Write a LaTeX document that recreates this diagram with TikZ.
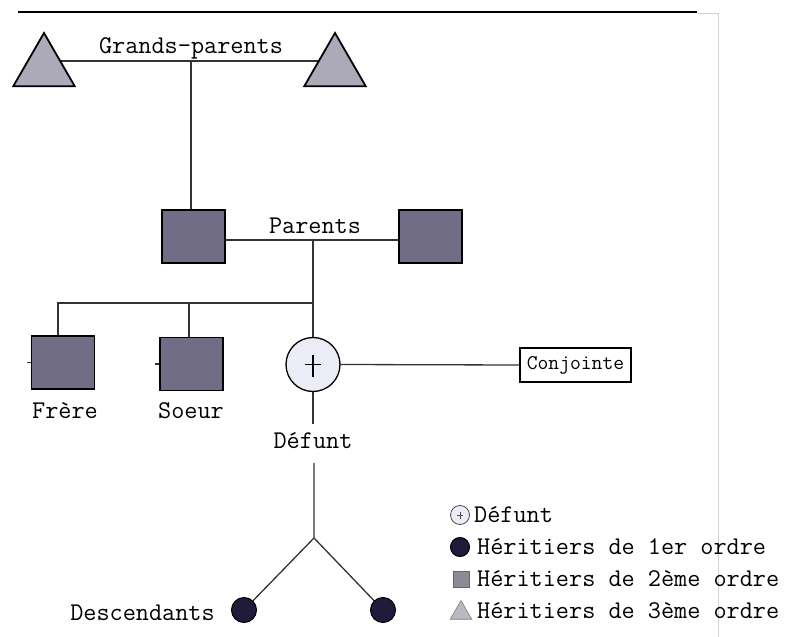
\documentclass[tikz,border=0pt]{standalone}
\usepackage{fontspec}
\usetikzlibrary{shapes.geometric,calc,backgrounds}
\definecolor{gpfill}{RGB}{172,170,184}
\definecolor{sqfill}{RGB}{114,109,134}
\definecolor{deadfill}{RGB}{236,236,246}
\definecolor{heirfill}{RGB}{32,27,58}
\definecolor{legsq}{RGB}{140,138,152}
\definecolor{legtri}{RGB}{186,184,192}
\newcommand\dcross[1]{%
  \path (path picture bounding box.center) coordinate (pc)
        (path picture bounding box.north) coordinate (pn)
        (path picture bounding box.south) coordinate (ps)
        (path picture bounding box.west) coordinate (pw)
        (path picture bounding box.east) coordinate (pe);
  \draw[line width=#1] ($(pc)!0.36!(pn)$) -- ($(pc)!0.46!(ps)$);
  \draw[line width=#1] ($(pc)!0.3!(pw)$) -- ($(pc)!0.3!(pe)$);}
\tikzset{
  conn/.style={draw=black!80, line width=1.3pt},
  tri/.style={regular polygon, regular polygon sides=3, draw=black, line width=1.8pt,
    fill=gpfill, inner sep=0pt, minimum size=71pt},
  sq/.style={rectangle, draw=black, line width=1.8pt, fill=sqfill, inner sep=0pt,
    minimum width=63pt, minimum height=53pt},
  dead/.style={circle, draw=black, line width=1.3pt, fill=deadfill, inner sep=0pt,
    minimum size=54pt, path picture={\dcross{1.4pt}}},
  deadicon/.style={circle, draw=black!70, line width=0.8pt, fill=deadfill, inner sep=0pt,
    minimum size=19pt, path picture={\dcross{1pt}}},
  heir/.style={circle, draw=black, line width=1pt, fill=heirfill, inner sep=0pt,
    minimum size=25pt},
  lbl/.style={font=\ttfamily\fontsize{25.5}{30}\selectfont, inner sep=0pt, anchor=base},
  leglbl/.style={font=\ttfamily\fontsize{25.5}{30}\selectfont, inner sep=0pt, anchor=base west},
  spouse/.style={rectangle, draw=black, line width=1.3pt, inner sep=0pt,
    minimum width=111pt, minimum height=34pt, font=\ttfamily\fontsize{21}{25}\selectfont},
}
\begin{document}
\begin{tikzpicture}[x=1pt,y=-1pt]
\useasboundingbox (0,0) rectangle (788,637);
% page frame of the scan
\draw[line width=2.5pt] (18,12) -- (697,12);
\draw[black!18, line width=0.8pt] (697,13) -- (718,13) -- (718,637);

% grandparents
\node[tri] (gpL) at (44,68.5) {};
\node[tri] (gpR) at (335,68.5) {};
\coordinate (gpJ) at (191,61);
\node[lbl] (gplab) at (191,53) {Grands-parents};

% parents
\node[sq] (parL) at (193.5,236.5) {};
\node[sq] (parR) at (430.5,236.5) {};
\coordinate (parJ) at (313,240);
\node[lbl] (parlab) at (315,233) {Parents};

% siblings
\coordinate (sibJ) at (313,303);
\coordinate (sib1) at (58,303);
\coordinate (sib2) at (189,303);
\node[sq] (frere) at (63,362.5) {};
\node[sq] (soeur) at (191.5,364) {};
\node[lbl] (frerelab) at (65,418) {Frère};
\node[lbl] (soeurlab) at (191,418) {Soeur};

% deceased and spouse
\node[dead] (def) at (313,364.5) {};
\node[spouse] (conj) at (575.5,365) {Conjointe};
\node[lbl] (deflab) at (313,448) {Défunt};
\coordinate (defB) at (313,424);

% descendants
\coordinate (forkT) at (314,463);
\coordinate (fork) at (314,538);
\node[heir] (d1) at (244,610) {};
\node[heir] (d2) at (383,610) {};
\node[lbl] (desclab) at (142.5,620) {Descendants};

% legend
\node[deadicon] (leg1) at (460,515) {};
\node[heir, minimum size=19pt] (leg2) at (460,547) {};
\node[rectangle, draw=black!60, line width=0.6pt, fill=legsq, inner sep=0pt,
      minimum size=16pt] (leg3) at (461,579) {};
\node[regular polygon, regular polygon sides=3, draw=black!50, line width=0.6pt,
      fill=legtri, inner sep=0pt, minimum size=25pt] (leg4) at (461,613) {};
\node[leglbl] (leg1t) at (474,522) {Défunt};
\node[leglbl] (leg2t) at (477,554) {Héritiers de 1er ordre};
\node[leglbl] (leg3t) at (477,586) {Héritiers de 2ème ordre};
\node[leglbl] (leg4t) at (477,618) {Héritiers de 3ème ordre};

\begin{scope}[on background layer]
  \draw[conn] (gpL.center |- gpJ) -- (gpR.center |- gpJ);
  \draw[conn] (gpJ) -- (gpJ |- parL.north);
  \draw[conn] (parL.east |- parJ) -- (parR.west |- parJ);
  \draw[conn] (parJ) -- (sibJ) -- (def.north);
  \draw[conn] (sibJ) -- (sib1) -- (sib1 |- frere.north);
  \draw[conn] (sib2) -- (sib2 |- soeur.north);
  \draw[conn] (frere.west) -- ++(-4,0);
  \draw[conn] (soeur.west) -- ++(-4,0);
  \draw[conn] (def.east) -- (conj.west);
  \draw[conn] (def.south) -- (defB);
  \draw[conn] (forkT) -- (fork) -- (d1.center);
  \draw[conn] (fork) -- (d2.center);
\end{scope}
\end{tikzpicture}
\end{document}
